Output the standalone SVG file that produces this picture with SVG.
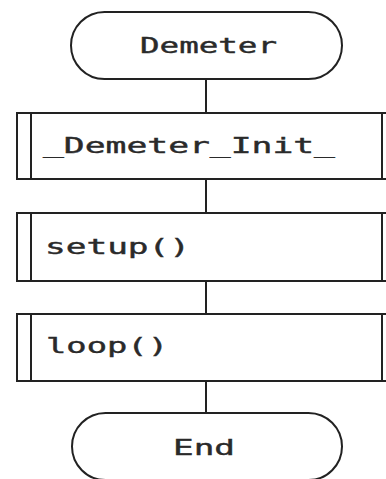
<svg xmlns="http://www.w3.org/2000/svg" width="386" height="479" viewBox="0 0 386 479">
<style>
.s{fill:#fff;stroke:#222;stroke-width:2}
.l{stroke:#222;stroke-width:2;fill:none}
.t{font-family:"DejaVu Sans Mono","Liberation Mono",monospace;font-size:21px;fill:#2a2a2a;stroke:#2a2a2a;stroke-width:0.4}
</style>
<rect width="386" height="479" fill="#fff"/>
<g id="connectors">
<line class="l" x1="206" y1="79" x2="206" y2="113"/>
<line class="l" x1="206" y1="179" x2="206" y2="213"/>
<line class="l" x1="206" y1="281" x2="206" y2="314"/>
<line class="l" x1="206" y1="381" x2="206" y2="413"/>
</g>
<g id="start">
<rect class="s" x="71" y="12" width="271" height="67" rx="33.5"/>
<text class="t" x="140" y="53" textLength="137" lengthAdjust="spacingAndGlyphs">Demeter</text>
</g>
<g id="init">
<rect class="s" x="17" y="113" width="379" height="66"/>
<line class="l" x1="31" y1="113" x2="31" y2="179"/>
<line class="l" x1="382" y1="113" x2="382" y2="179"/>
<text class="t" x="43" y="153" textLength="292" lengthAdjust="spacingAndGlyphs">_Demeter_Init_</text>
</g>
<g id="setup">
<rect class="s" x="17" y="213" width="379" height="68"/>
<line class="l" x1="31" y1="213" x2="31" y2="281"/>
<line class="l" x1="382" y1="213" x2="382" y2="281"/>
<text class="t" x="45" y="254" textLength="145" lengthAdjust="spacingAndGlyphs">setup()</text>
</g>
<g id="loop">
<rect class="s" x="17" y="314" width="379" height="67"/>
<line class="l" x1="31" y1="314" x2="31" y2="381"/>
<line class="l" x1="382" y1="314" x2="382" y2="381"/>
<text class="t" x="46" y="353" textLength="122" lengthAdjust="spacingAndGlyphs">loop()</text>
</g>
<g id="end">
<rect class="s" x="72" y="413" width="270" height="67" rx="33.5"/>
<text class="t" x="173" y="455" textLength="62" lengthAdjust="spacingAndGlyphs">End</text>
</g>
</svg>
